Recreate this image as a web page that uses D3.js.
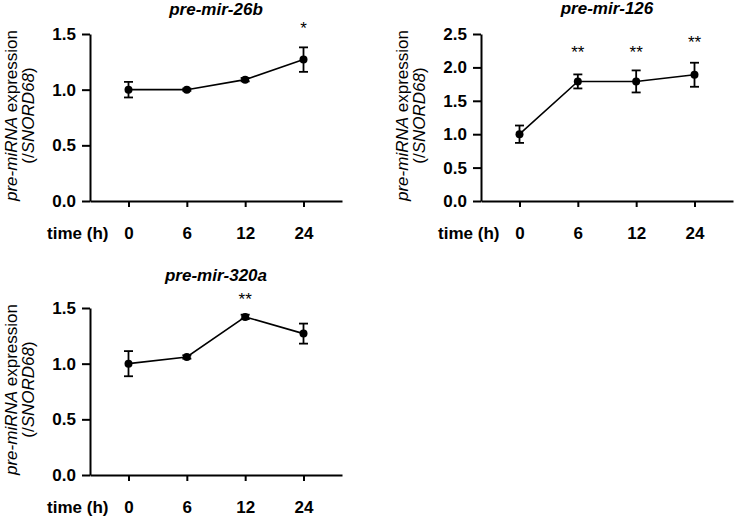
<!DOCTYPE html>
<html>
<head>
<meta charset="utf-8">
<script src="https://cdn.jsdelivr.net/npm/d3@7"></script>
<style>
  html, body { margin: 0; padding: 0; background: #fff; }
  svg { display: block; font-family: Arial, "Liberation Sans", Helvetica, sans-serif; }
</style>
</head>
<body>
<svg id="chart" width="734" height="517"></svg>
<script>
// ---- data ----
const timeLabels = ["0", "6", "12", "24"];

const mir26bMean = [1.00, 1.00, 1.09, 1.27];
const mir26bErr  = [0.07, 0.01, 0.015, 0.11];
const mir26bSig  = ["", "", "", "*"];
const mir26bSigAt = [null, null, null, 1.59];
const mir26bTicks = [0, 0.5, 1.0, 1.5];

const mir126Mean = [1.00, 1.79, 1.79, 1.89];
const mir126Err  = [0.13, 0.105, 0.165, 0.18];
const mir126Sig  = ["", "**", "**", "**"];
const mir126SigAt = [null, 2.29, 2.29, 2.44];
const mir126Ticks = [0, 0.5, 1.0, 1.5, 2.0, 2.5];

const mir320aMean = [1.00, 1.06, 1.42, 1.27];
const mir320aErr  = [0.113, 0.015, 0.02, 0.09];
const mir320aSig  = ["", "", "**", ""];
const mir320aSigAt = [null, null, 1.62, null];
const mir320aTicks = [0, 0.5, 1.0, 1.5];

const panelTitles = ["pre-mir-26b", "pre-mir-126", "pre-mir-320a"];
const xAxisTitle = "time (h)";

// ---- layout ----
const panels = [
  { title: panelTitles[0], mean: mir26bMean, err: mir26bErr, sig: mir26bSig, sigAt: mir26bSigAt, ticks: mir26bTicks,
    x0: 90, x1: 342, yBot: 201, yTop: 34, titleY: 15 },
  { title: panelTitles[1], mean: mir126Mean, err: mir126Err, sig: mir126Sig, sigAt: mir126SigAt, ticks: mir126Ticks,
    x0: 481, x1: 733, yBot: 201, yTop: 34, titleY: 14 },
  { title: panelTitles[2], mean: mir320aMean, err: mir320aErr, sig: mir320aSig, sigAt: mir320aSigAt, ticks: mir320aTicks,
    x0: 90, x1: 342, yBot: 475, yTop: 308, titleY: 281 }
];

const svg = d3.select("#chart");
const FS = 17;

panels.forEach(p => {
  const g = svg.append("g");
  const x = d3.scalePoint().domain(timeLabels).range([p.x0, p.x1]).padding(0.66);
  const y = d3.scaleLinear().domain([0, d3.max(p.ticks)]).range([p.yBot, p.yTop]);

  // y axis
  const ya = g.append("g").attr("transform", `translate(${p.x0},0)`)
    .call(d3.axisLeft(y).tickValues(p.ticks).tickFormat(d3.format(".1f")).tickSize(8).tickSizeOuter(0).tickPadding(6));
  ya.select(".domain").attr("stroke", "#000").attr("stroke-width", 2);
  ya.selectAll(".tick line").attr("stroke", "#000").attr("stroke-width", 2);
  ya.selectAll(".tick text").attr("font-size", FS).attr("font-weight", "bold")
    .attr("font-family", "Arial, 'Liberation Sans', sans-serif").attr("fill", "#000");

  // x axis
  const xa = g.append("g").attr("transform", `translate(0,${p.yBot})`)
    .call(d3.axisBottom(x).tickSize(6).tickSizeOuter(0).tickPadding(20));
  xa.select(".domain").attr("stroke", "#000").attr("stroke-width", 2);
  xa.selectAll(".tick line").attr("stroke", "#000").attr("stroke-width", 2);
  xa.selectAll(".tick text").attr("font-size", FS).attr("font-weight", "bold")
    .attr("font-family", "Arial, 'Liberation Sans', sans-serif").attr("fill", "#000");

  // x axis title
  g.append("text")
    .attr("x", x(timeLabels[0]) - 20)
    .attr("y", p.yBot + 38)
    .attr("text-anchor", "end")
    .attr("font-size", FS).attr("font-weight", "bold")
    .text(xAxisTitle);

  // panel title
  g.append("text")
    .attr("x", (p.x0 + p.x1) / 2)
    .attr("y", p.titleY)
    .attr("text-anchor", "middle")
    .attr("font-size", FS).attr("font-weight", "bold").attr("font-style", "italic")
    .text(p.title);

  // y axis title (two lines)
  const cy = (p.yBot + p.yTop) / 2 - 2;
  const t1 = g.append("text")
    .attr("transform", `translate(${p.x0 - 73},${cy}) rotate(-90)`)
    .attr("text-anchor", "middle").attr("font-size", FS);
  t1.append("tspan").attr("font-style", "italic").text("pre-miRNA");
  t1.append("tspan").text(" expression");
  const t2 = g.append("text")
    .attr("transform", `translate(${p.x0 - 56},${cy}) rotate(-90)`)
    .attr("text-anchor", "middle").attr("font-size", FS);
  t2.append("tspan").text("(/");
  t2.append("tspan").attr("font-style", "italic").text("SNORD68");
  t2.append("tspan").text(")");

  const pts = timeLabels.map((t, i) => ({ t, m: p.mean[i], e: p.err[i], s: p.sig[i], sa: p.sigAt[i] }));

  // line
  g.append("path").datum(pts)
    .attr("fill", "none").attr("stroke", "#000").attr("stroke-width", 1.6)
    .attr("d", d3.line().x(d => x(d.t)).y(d => y(d.m)));

  // error bars
  const eb = g.selectAll(".eb").data(pts).enter().append("g");
  eb.append("line")
    .attr("x1", d => x(d.t)).attr("x2", d => x(d.t))
    .attr("y1", d => y(d.m - d.e)).attr("y2", d => y(d.m + d.e))
    .attr("stroke", "#000").attr("stroke-width", 1.8);
  eb.append("line")
    .attr("x1", d => x(d.t) - 4.5).attr("x2", d => x(d.t) + 4.5)
    .attr("y1", d => y(d.m + d.e)).attr("y2", d => y(d.m + d.e))
    .attr("stroke", "#000").attr("stroke-width", 1.8);
  eb.append("line")
    .attr("x1", d => x(d.t) - 4.5).attr("x2", d => x(d.t) + 4.5)
    .attr("y1", d => y(d.m - d.e)).attr("y2", d => y(d.m - d.e))
    .attr("stroke", "#000").attr("stroke-width", 1.8);

  // markers
  g.selectAll(".pt").data(pts).enter().append("circle")
    .attr("cx", d => x(d.t)).attr("cy", d => y(d.m)).attr("r", 4)
    .attr("fill", "#000");

  // significance stars
  g.selectAll(".sig").data(pts.filter(d => d.s)).enter().append("text")
    .attr("x", d => x(d.t)).attr("y", d => y(d.sa) + 10)
    .attr("text-anchor", "middle").attr("font-size", FS)
    .text(d => d.s);
});
</script>
</body>
</html>
